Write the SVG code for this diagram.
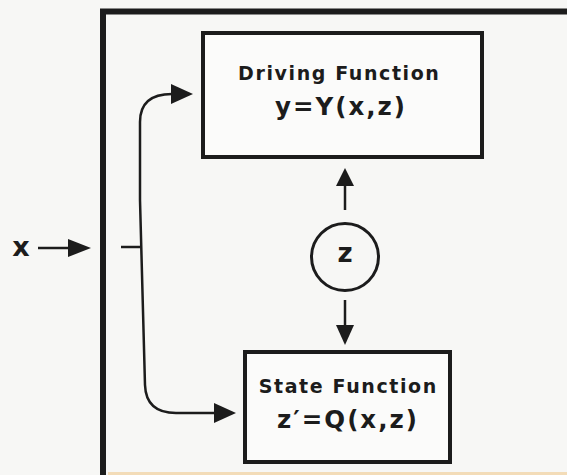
<svg xmlns="http://www.w3.org/2000/svg" width="567" height="475" viewBox="0 0 567 475">
<style>
.t{font-family:"DejaVu Sans","Liberation Sans",sans-serif;font-weight:bold;fill:#1c1c1c;text-anchor:middle}
.h{font-size:19px;letter-spacing:1.6px}
.f{font-size:24.5px;letter-spacing:2px}
.box{fill:#fbfbfa;stroke:#1c1c1c;stroke-width:4}
.ln{fill:none;stroke:#1c1c1c;stroke-width:2.5}
.ah{fill:#1c1c1c}
</style>
<rect width="567" height="475" fill="#f7f7f5"/>
<rect x="108" y="472" width="459" height="3" fill="#f3dcb8"/>
<g id="frame">
<path d="M103,475 V11.5 H567" fill="none" stroke="#1c1c1c" stroke-width="6"/>
</g>
<g id="driving">
<rect class="box" x="203" y="33" width="279" height="124"/>
<text class="t h" x="339.3" y="80">Driving Function</text>
<text class="t f" x="341" y="115">y=Y(x,z)</text>
</g>
<g id="state">
<rect class="box" x="245" y="352" width="205" height="110"/>
<text class="t h" x="348.3" y="393">State Function</text>
<text class="t f" x="348" y="428">z′=Q(x,z)</text>
</g>
<g id="zstate">
<circle cx="345" cy="257" r="33.5" fill="none" stroke="#1c1c1c" stroke-width="3"/>
<text class="t" x="345" y="262" font-size="26">z</text>
</g>
<g id="input">
<text class="t" x="21" y="256" font-size="27">x</text>
</g>
<g id="connectors">
<line class="ln" x1="38" y1="248" x2="70" y2="248"/>
<polygon class="ah" points="68,239 91,248 68,257"/>
<line class="ln" x1="121" y1="247" x2="140" y2="247"/>
<path class="ln" d="M140,200 V122 Q140,94 172,94"/>
<polygon class="ah" points="171,84 193,94 171,104"/>
<path class="ln" d="M140,200 L145,385 Q146,413 176,413 H216"/>
<polygon class="ah" points="214,403 236,413 214,423"/>
<line class="ln" x1="345" y1="210" x2="345" y2="184"/>
<polygon class="ah" points="336,186 345,168 354,186"/>
<line class="ln" x1="345" y1="300" x2="345" y2="327"/>
<polygon class="ah" points="336,325 345,345 354,325"/>
</g>
</svg>
